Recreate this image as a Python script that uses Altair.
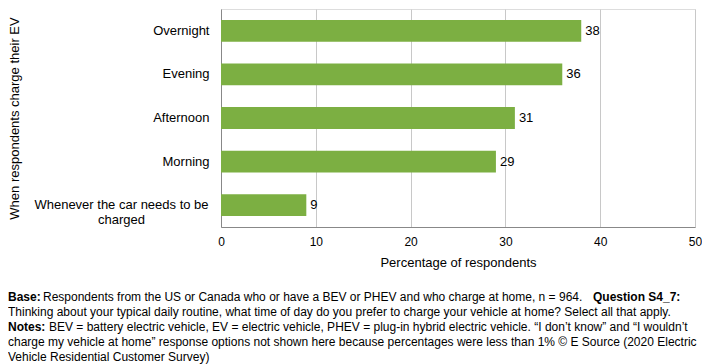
import altair as alt
import pandas as pd

categories = ["Overnight", "Evening", "Afternoon", "Morning", "Whenever the car needs to be charged"]
values = [38, 36, 31, 29, 9]
x_ticks = [0, 10, 20, 30, 40, 50]

df = pd.DataFrame({"when": categories, "pct": values})

FONT = "Liberation Sans"
LONG = "Whenever the car needs to be charged"
is_long = "datum.value == '" + LONG + "'"

base = alt.Chart(df).encode(
    y=alt.Y("when:N", sort=categories,
            scale=alt.Scale(paddingInner=0.5, paddingOuter=0.25),
            axis=alt.Axis(title="When respondents charge their EV",
                          titleFontSize=13, titleFontWeight="normal", titleFont=FONT,
                          titleColor="#000", titlePadding=12,
                          labelFontSize=13, labelFont=FONT, labelColor="#000",
                          labelAlign=alt.condition(is_long, alt.value("center"), alt.value("right")),
                          labelPadding=alt.condition(is_long, alt.value(100), alt.value(12)),
                          ticks=False, domainColor="#888",
                          labelLimit=300,
                          labelExpr="datum.label == '" + LONG + "' ? ['Whenever the car needs to be', 'charged'] : datum.label")),
)

bars = base.mark_bar(color="#7CAF42").encode(
    x=alt.X("pct:Q", scale=alt.Scale(domain=[0, 50]),
            axis=alt.Axis(values=x_ticks, title="Percentage of respondents",
                          titleFontSize=13, titleFontWeight="normal", titleFont=FONT,
                          titleColor="#000", titlePadding=9,
                          labelFontSize=12, labelFont=FONT, labelColor="#000",
                          labelPadding=9, labelFlush=False, ticks=False, domainColor="#888",
                          grid=True, gridColor="#c8c8c8")),
)

labels = base.mark_text(align="left", dx=4, fontSize=13, font=FONT, color="#000").encode(
    x="pct:Q", text="pct:Q"
)

note_lines = [
    ("Base:", "Respondents from the US or Canada who or have a BEV or PHEV and who charge at home, n = 964."),
    ("", "Thinking about your typical daily routine, what time of day do you prefer to charge your vehicle at home? Select all that apply."),
    ("Notes:", "BEV = battery electric vehicle, EV = electric vehicle, PHEV = plug-in hybrid electric vehicle. \u201cI don\u2019t know\u201d and \u201cI wouldn\u2019t"),
    ("", "charge my vehicle at home\u201d response options not shown here because percentages were less than 1% \u00a9 E Source (2020 Electric"),
    ("", "Vehicle Residential Customer Survey)"),
]

notes = []
x0 = -213
y0 = 288
for i, (b, t) in enumerate(note_lines):
    yy = y0 + i * 15
    off = 0
    if b:
        notes.append(alt.Chart(pd.DataFrame({"t": [b]})).mark_text(
            align="left", baseline="middle", fontSize=12, font=FONT, fontWeight="bold", color="#000"
        ).encode(x=alt.value(x0), y=alt.value(yy), text="t:N"))
        off = 35 if b == "Base:" else 41
    notes.append(alt.Chart(pd.DataFrame({"t": [t]})).mark_text(
        align="left", baseline="middle", fontSize=12, font=FONT, color="#000"
    ).encode(x=alt.value(x0 + off), y=alt.value(yy), text="t:N"))

notes.append(alt.Chart(pd.DataFrame({"t": ["Question S4_7:"]})).mark_text(
    align="left", baseline="middle", fontSize=12, font=FONT, fontWeight="bold", color="#000"
).encode(x=alt.value(x0 + 585), y=alt.value(y0), text="t:N"))

chart = alt.layer(bars, labels, *notes).properties(
    width=474, height=218,
    autosize=alt.AutoSizeParams(type="none"),
    padding={"left": 213, "top": 1, "right": 7, "bottom": 137},
).configure_view(strokeWidth=0).configure(background="white")

chart.save("out.html", embed_options={"renderer": "svg", "actions": False})
